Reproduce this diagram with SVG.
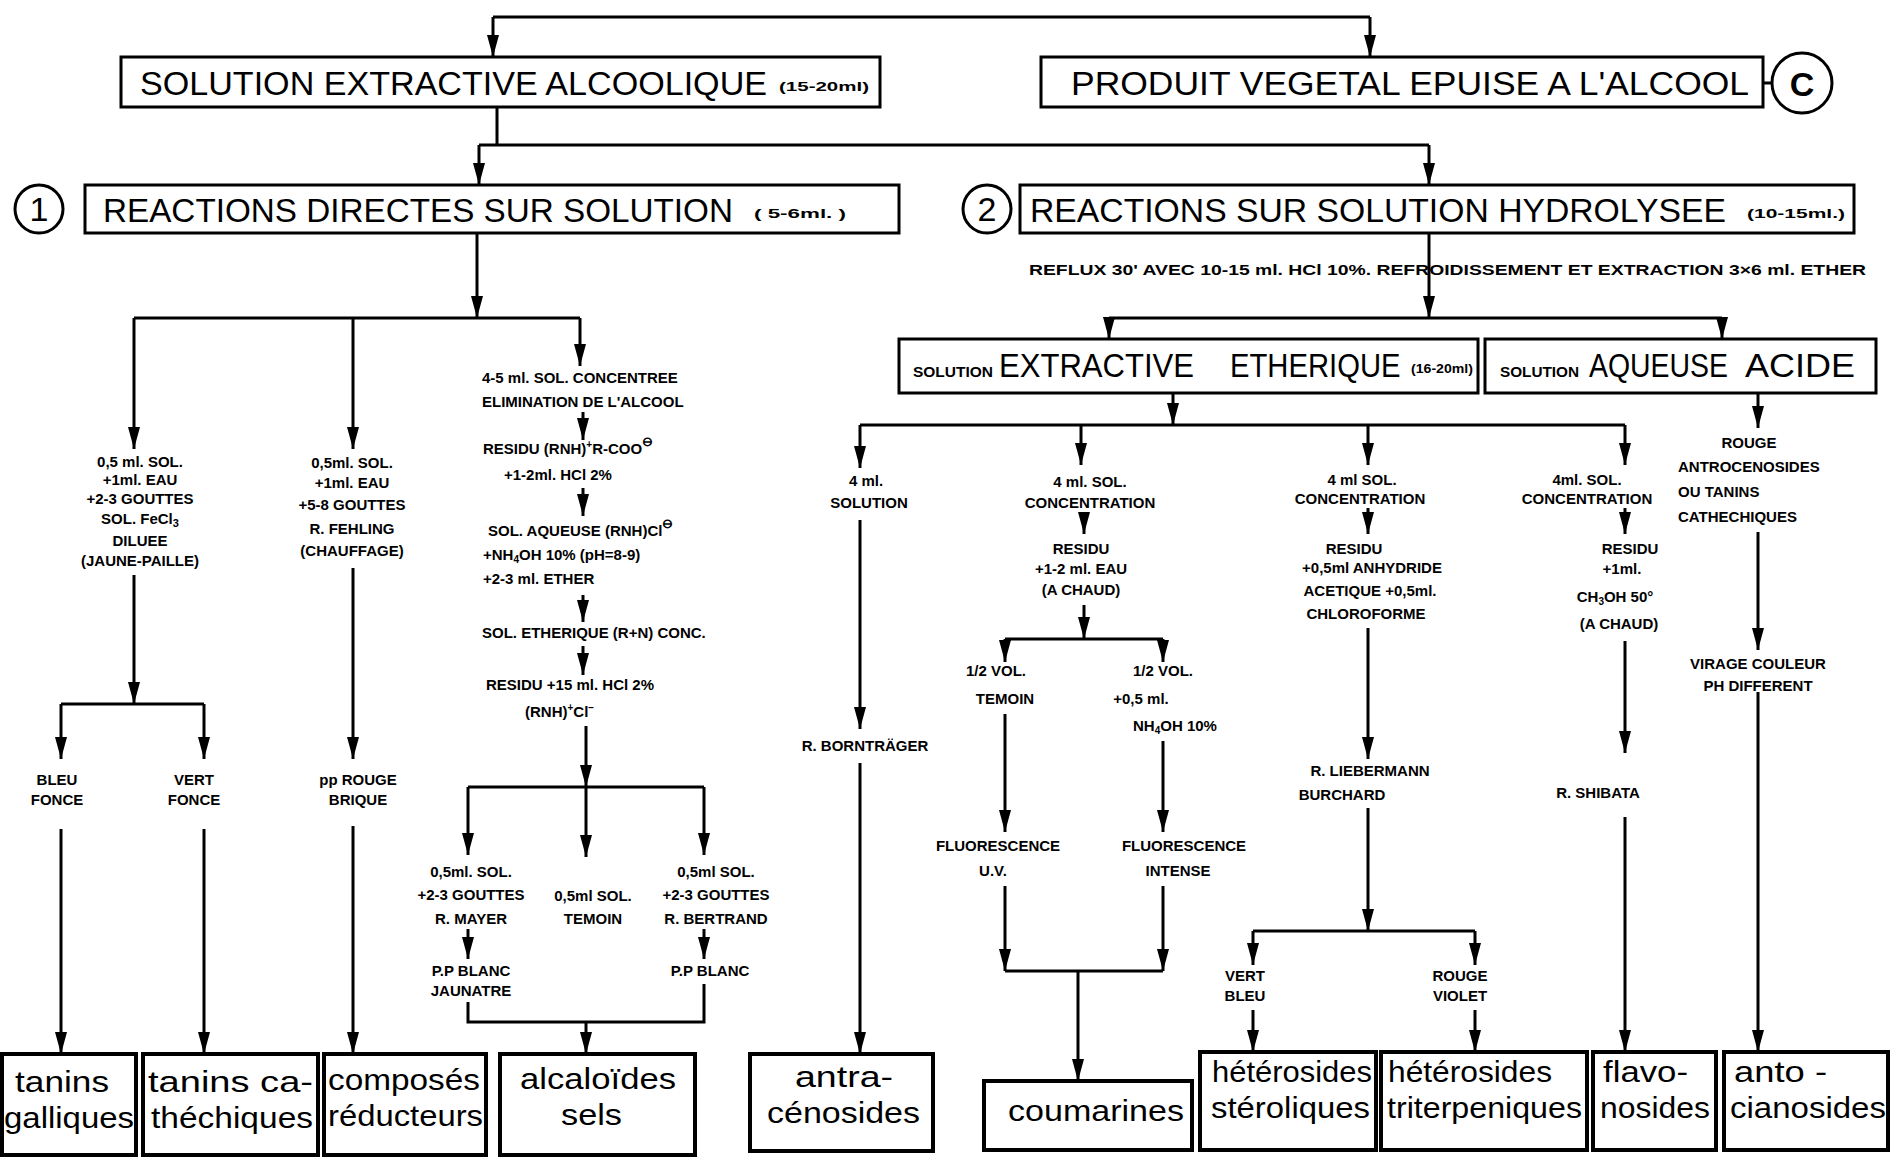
<svg xmlns="http://www.w3.org/2000/svg" width="1904" height="1157" viewBox="0 0 1904 1157">
<defs>
<marker id="ah" viewBox="0 0 22 12" refX="22" refY="6" markerWidth="22" markerHeight="12" markerUnits="userSpaceOnUse" orient="auto">
<path d="M0,0 L22,6 L0,12 z" fill="#000"/>
</marker>
<style>
.box{fill:#fff;stroke:#000;stroke-width:3}
.bbox{fill:#fff;stroke:#000;stroke-width:4}
.ln{fill:none;stroke:#000;stroke-width:3}
.ar{marker-end:url(#ah)}
.t{font-family:"Liberation Sans",Arial,sans-serif;font-weight:bold;font-size:15px;fill:#000}
.c{text-anchor:middle}
.big{font-family:"Liberation Sans",Arial,sans-serif;font-size:34px;fill:#000}
.sm{font-family:"Liberation Sans",Arial,sans-serif;font-weight:bold;font-size:12px;fill:#000}
.res{font-family:"Liberation Sans",Arial,sans-serif;font-size:30px;fill:#000}
.circ{fill:#fff;stroke:#000;stroke-width:3}
</style>
</defs>
<rect width="1904" height="1157" fill="#fff"/>

<g id="connectors">
<path class="ln" d="M493,17 H1370"/>
<line class="ln ar" x1="493" y1="17" x2="493" y2="57"/>
<line class="ln ar" x1="1370" y1="17" x2="1370" y2="57"/>
<path class="ln" d="M497,107 V145 M479,145 H1429"/>
<line class="ln ar" x1="479" y1="145" x2="479" y2="185"/>
<line class="ln ar" x1="1429" y1="145" x2="1429" y2="185"/>
<line class="ln ar" x1="477" y1="233" x2="477" y2="318"/>
<path class="ln" d="M134,318 H580"/>
<line class="ln ar" x1="134" y1="318" x2="134" y2="449"/>
<line class="ln ar" x1="353" y1="318" x2="353" y2="449"/>
<line class="ln ar" x1="580" y1="318" x2="580" y2="366"/>
<line class="ln ar" x1="134" y1="575" x2="134" y2="704"/>
<path class="ln" d="M61,704 H204"/>
<line class="ln ar" x1="61" y1="704" x2="61" y2="759"/>
<line class="ln ar" x1="204" y1="704" x2="204" y2="759"/>
<line class="ln ar" x1="61" y1="829" x2="61" y2="1054"/>
<line class="ln ar" x1="204" y1="829" x2="204" y2="1054"/>
<line class="ln ar" x1="353" y1="568" x2="353" y2="759"/>
<line class="ln ar" x1="353" y1="826" x2="353" y2="1054"/>
<line class="ln ar" x1="583" y1="412" x2="583" y2="440"/>
<line class="ln ar" x1="583" y1="488" x2="583" y2="516"/>
<line class="ln ar" x1="583" y1="595" x2="583" y2="622"/>
<line class="ln ar" x1="583" y1="646" x2="583" y2="675"/>
<line class="ln ar" x1="586" y1="726" x2="586" y2="787"/>
<path class="ln" d="M468,787 H704"/>
<line class="ln ar" x1="468" y1="787" x2="468" y2="855"/>
<line class="ln ar" x1="586" y1="787" x2="586" y2="857"/>
<line class="ln ar" x1="704" y1="787" x2="704" y2="855"/>
<line class="ln ar" x1="468" y1="929" x2="468" y2="959"/>
<line class="ln ar" x1="704" y1="929" x2="704" y2="959"/>
<path class="ln" d="M468,1002 V1022 H704 V984"/>
<line class="ln ar" x1="586" y1="1022" x2="586" y2="1054"/>
<line class="ln ar" x1="1429" y1="233" x2="1429" y2="318"/>
<path class="ln" d="M1109,318 H1722"/>
<line class="ln ar" x1="1109" y1="318" x2="1109" y2="339"/>
<line class="ln ar" x1="1722" y1="318" x2="1722" y2="339"/>
<line class="ln ar" x1="1173" y1="393" x2="1173" y2="425"/>
<path class="ln" d="M860,425 H1625"/>
<line class="ln ar" x1="860" y1="425" x2="860" y2="468"/>
<line class="ln ar" x1="1081" y1="425" x2="1081" y2="465"/>
<line class="ln ar" x1="1368" y1="425" x2="1368" y2="465"/>
<line class="ln ar" x1="1625" y1="425" x2="1625" y2="465"/>
<line class="ln ar" x1="860" y1="520" x2="860" y2="729"/>
<line class="ln ar" x1="860" y1="763" x2="860" y2="1054"/>
<line class="ln ar" x1="1084" y1="512" x2="1084" y2="534"/>
<line class="ln ar" x1="1084" y1="605" x2="1084" y2="639"/>
<path class="ln" d="M1005,639 H1163"/>
<line class="ln ar" x1="1005" y1="639" x2="1005" y2="662"/>
<line class="ln ar" x1="1163" y1="639" x2="1163" y2="662"/>
<line class="ln ar" x1="1005" y1="714" x2="1005" y2="832"/>
<line class="ln ar" x1="1163" y1="741" x2="1163" y2="832"/>
<line class="ln ar" x1="1005" y1="886" x2="1005" y2="971"/>
<line class="ln ar" x1="1163" y1="886" x2="1163" y2="971"/>
<path class="ln" d="M1005,971 H1163"/>
<line class="ln ar" x1="1078" y1="971" x2="1078" y2="1081"/>
<line class="ln ar" x1="1368" y1="508" x2="1368" y2="534"/>
<line class="ln ar" x1="1368" y1="628" x2="1368" y2="759"/>
<line class="ln ar" x1="1368" y1="808" x2="1368" y2="931"/>
<path class="ln" d="M1253,931 H1475"/>
<line class="ln ar" x1="1253" y1="931" x2="1253" y2="965"/>
<line class="ln ar" x1="1475" y1="931" x2="1475" y2="965"/>
<line class="ln ar" x1="1253" y1="1010" x2="1253" y2="1052"/>
<line class="ln ar" x1="1475" y1="1010" x2="1475" y2="1052"/>
<line class="ln ar" x1="1625" y1="508" x2="1625" y2="534"/>
<line class="ln ar" x1="1625" y1="641" x2="1625" y2="753"/>
<line class="ln ar" x1="1625" y1="817" x2="1625" y2="1052"/>
<line class="ln ar" x1="1758" y1="393" x2="1758" y2="428"/>
<line class="ln ar" x1="1758" y1="532" x2="1758" y2="650"/>
<line class="ln ar" x1="1758" y1="692" x2="1758" y2="1052"/>
<line class="ln" x1="1772" y1="83" x2="1764" y2="83"/>
</g>

<g id="solution-alcoolique">
<rect class="box" x="121" y="57" width="759" height="50"/>
<text class="big" x="140" y="95" textLength="627" lengthAdjust="spacingAndGlyphs">SOLUTION EXTRACTIVE ALCOOLIQUE</text>
<text class="sm" x="779" y="91" textLength="90" lengthAdjust="spacingAndGlyphs">(15-20ml)</text>
</g>

<g id="produit-vegetal">
<rect class="box" x="1041" y="57" width="722" height="50"/>
<text class="big" x="1071" y="95" textLength="678" lengthAdjust="spacingAndGlyphs">PRODUIT VEGETAL EPUISE A L'ALCOOL</text>
</g>
<g id="circle-c">
<circle class="circ" cx="1802" cy="83" r="30"/>
<text class="big c" x="1802" y="96" font-weight="bold" font-size="34">C</text>
</g>

<g id="reactions-directes">
<circle class="circ" cx="39" cy="209" r="24"/>
<text class="big c" x="39" y="221" font-size="32">1</text>
<rect class="box" x="85" y="185" width="814" height="48"/>
<text class="big" x="103" y="222" textLength="630" lengthAdjust="spacingAndGlyphs">REACTIONS DIRECTES SUR SOLUTION</text>
<text class="sm" x="754" y="218" textLength="92" lengthAdjust="spacingAndGlyphs">( 5-6ml. )</text>
</g>

<g id="reactions-hydrolysee">
<circle class="circ" cx="987" cy="209" r="24"/>
<text class="big c" x="987" y="221" font-size="32">2</text>
<rect class="box" x="1020" y="185" width="834" height="48"/>
<text class="big" x="1030" y="222" textLength="696" lengthAdjust="spacingAndGlyphs">REACTIONS SUR SOLUTION HYDROLYSEE</text>
<text class="sm" x="1747" y="218" textLength="98" lengthAdjust="spacingAndGlyphs">(10-15ml.)</text>
</g>

<g id="reflux">
<text class="t" x="1029" y="275" textLength="837" lengthAdjust="spacingAndGlyphs">REFLUX   30' AVEC 10-15 ml. HCl 10%. REFROIDISSEMENT ET EXTRACTION 3×6 ml. ETHER</text>
</g>

<g id="solution-etherique">
<rect class="box" x="899" y="339" width="579" height="54"/>
<text class="t" x="913" y="377" textLength="80" lengthAdjust="spacingAndGlyphs">SOLUTION</text>
<text class="big" x="999" y="377" font-size="38" textLength="195" lengthAdjust="spacingAndGlyphs">EXTRACTIVE</text>
<text class="big" transform="translate(1230,377) scale(0.86,1)" x="0" y="0" font-size="38">ETHERIQUE</text>
<text class="sm" x="1411" y="373" textLength="62" lengthAdjust="spacingAndGlyphs">(16-20ml)</text>
</g>

<g id="solution-aqueuse">
<rect class="box" x="1485" y="339" width="391" height="54"/>
<text class="t" x="1500" y="377" textLength="79" lengthAdjust="spacingAndGlyphs">SOLUTION</text>
<text class="big" x="1589" y="377" font-size="38" textLength="139" lengthAdjust="spacingAndGlyphs">AQUEUSE</text>
<text class="big" x="1745" y="377" font-size="38" textLength="110" lengthAdjust="spacingAndGlyphs">ACIDE</text>
</g>

<g id="col1-fecl3">
<text class="t c" x="140" y="467">0,5 ml. SOL.</text>
<text class="t c" x="140" y="485">+1ml. EAU</text>
<text class="t c" x="140" y="504">+2-3 GOUTTES</text>
<text class="t c" x="140" y="524">SOL. FeCl<tspan dy="3" font-size="11">3</tspan></text>
<text class="t c" x="140" y="546">DILUEE</text>
<text class="t c" x="140" y="566">(JAUNE-PAILLE)</text>
</g>
<g id="bleu-fonce">
<text class="t c" x="57" y="785">BLEU</text>
<text class="t c" x="57" y="805">FONCE</text>
</g>
<g id="vert-fonce">
<text class="t c" x="194" y="785">VERT</text>
<text class="t c" x="194" y="805">FONCE</text>
</g>

<g id="col2-fehling">
<text class="t c" x="352" y="468">0,5ml. SOL.</text>
<text class="t c" x="352" y="488">+1ml. EAU</text>
<text class="t c" x="352" y="510">+5-8 GOUTTES</text>
<text class="t c" x="352" y="534">R. FEHLING</text>
<text class="t c" x="352" y="556">(CHAUFFAGE)</text>
</g>
<g id="rouge-brique">
<text class="t c" x="358" y="785">pp ROUGE</text>
<text class="t c" x="358" y="805">BRIQUE</text>
</g>

<g id="col3-alcaloides">
<text class="t" x="482" y="383">4-5 ml. SOL. CONCENTREE</text>
<text class="t" x="482" y="407">ELIMINATION DE L'ALCOOL</text>
<text class="t" x="483" y="454">RESIDU (RNH)<tspan dy="-6" font-size="10">+</tspan><tspan dy="6">R-COO</tspan><tspan dy="-8" font-size="13">⊖</tspan></text>
<text class="t" x="504" y="480">+1-2ml. HCl 2%</text>
<text class="t" x="488" y="536">SOL. AQUEUSE (RNH)Cl<tspan dy="-8" font-size="13">⊖</tspan></text>
<text class="t" x="483" y="560">+NH<tspan dy="3" font-size="10">4</tspan><tspan dy="-3">OH 10% (pH=8-9)</tspan></text>
<text class="t" x="483" y="584">+2-3 ml. ETHER</text>
<text class="t" x="482" y="638">SOL. ETHERIQUE (R+N) CONC.</text>
<text class="t" x="486" y="690">RESIDU +15 ml. HCl 2%</text>
<text class="t" x="525" y="717">(RNH)<tspan dy="-6" font-size="10">+</tspan><tspan dy="6">Cl</tspan><tspan dy="-6" font-size="10">−</tspan></text>
</g>
<g id="mayer">
<text class="t c" x="471" y="877">0,5ml. SOL.</text>
<text class="t c" x="471" y="900">+2-3 GOUTTES</text>
<text class="t c" x="471" y="924">R. MAYER</text>
</g>
<g id="temoin-alc">
<text class="t c" x="593" y="901">0,5ml SOL.</text>
<text class="t c" x="593" y="924">TEMOIN</text>
</g>
<g id="bertrand">
<text class="t c" x="716" y="877">0,5ml SOL.</text>
<text class="t c" x="716" y="900">+2-3 GOUTTES</text>
<text class="t c" x="716" y="924">R. BERTRAND</text>
</g>
<g id="blanc-jaunatre">
<text class="t c" x="471" y="976">P.P BLANC</text>
<text class="t c" x="471" y="996">JAUNATRE</text>
</g>
<g id="blanc">
<text class="t c" x="710" y="976">P.P BLANC</text>
</g>

<g id="col-a">
<text class="t c" x="866" y="486">4 ml.</text>
<text class="t c" x="869" y="508">SOLUTION</text>
</g>
<g id="borntrager">
<text class="t c" x="865" y="751">R. BORNTRÄGER</text>
</g>

<g id="col-b">
<text class="t c" x="1090" y="487">4 ml. SOL.</text>
<text class="t c" x="1090" y="508">CONCENTRATION</text>
<text class="t c" x="1081" y="554">RESIDU</text>
<text class="t c" x="1081" y="574">+1-2 ml. EAU</text>
<text class="t c" x="1081" y="595">(A CHAUD)</text>
</g>
<g id="temoin-b">
<text class="t c" x="996" y="676">1/2 VOL.</text>
<text class="t c" x="1005" y="704">TEMOIN</text>
</g>
<g id="nh4oh-b">
<text class="t c" x="1163" y="676">1/2 VOL.</text>
<text class="t c" x="1141" y="704">+0,5 ml.</text>
<text class="t c" x="1175" y="731">NH<tspan dy="3" font-size="10">4</tspan><tspan dy="-3">OH 10%</tspan></text>
</g>
<g id="fluo-uv">
<text class="t c" x="998" y="851">FLUORESCENCE</text>
<text class="t c" x="993" y="876">U.V.</text>
</g>
<g id="fluo-intense">
<text class="t c" x="1184" y="851">FLUORESCENCE</text>
<text class="t c" x="1178" y="876">INTENSE</text>
</g>

<g id="col-c">
<text class="t c" x="1362" y="485">4 ml SOL.</text>
<text class="t c" x="1360" y="504">CONCENTRATION</text>
<text class="t c" x="1354" y="554">RESIDU</text>
<text class="t c" x="1372" y="573">+0,5ml ANHYDRIDE</text>
<text class="t c" x="1370" y="596">ACETIQUE +0,5ml.</text>
<text class="t c" x="1366" y="619">CHLOROFORME</text>
</g>
<g id="liebermann">
<text class="t c" x="1370" y="776">R. LIEBERMANN</text>
<text class="t c" x="1342" y="800">BURCHARD</text>
</g>
<g id="vert-bleu">
<text class="t c" x="1245" y="981">VERT</text>
<text class="t c" x="1245" y="1001">BLEU</text>
</g>
<g id="rouge-violet">
<text class="t c" x="1460" y="981">ROUGE</text>
<text class="t c" x="1460" y="1001">VIOLET</text>
</g>

<g id="col-d">
<text class="t c" x="1587" y="485">4ml. SOL.</text>
<text class="t c" x="1587" y="504">CONCENTRATION</text>
<text class="t c" x="1630" y="554">RESIDU</text>
<text class="t c" x="1622" y="574">+1ml.</text>
<text class="t c" x="1615" y="602">CH<tspan dy="3" font-size="10">3</tspan><tspan dy="-3">OH 50°</tspan></text>
<text class="t c" x="1619" y="629">(A CHAUD)</text>
</g>
<g id="shibata">
<text class="t c" x="1598" y="798">R. SHIBATA</text>
</g>

<g id="col-e">
<text class="t c" x="1749" y="448">ROUGE</text>
<text class="t" x="1678" y="472">ANTROCENOSIDES</text>
<text class="t" x="1678" y="497">OU TANINS</text>
<text class="t" x="1678" y="522">CATHECHIQUES</text>
</g>
<g id="virage">
<text class="t c" x="1758" y="669">VIRAGE COULEUR</text>
<text class="t c" x="1758" y="691">PH DIFFERENT</text>
</g>

<g id="tanins-galliques">
<rect class="bbox" x="2" y="1054" width="134" height="101"/>
<text class="res" x="15" y="1092" textLength="94" lengthAdjust="spacingAndGlyphs">tanins</text>
<text class="res" x="4" y="1128" textLength="130" lengthAdjust="spacingAndGlyphs">galliques</text>
</g>
<g id="tanins-catechiques">
<rect class="bbox" x="143" y="1054" width="175" height="101"/>
<text class="res" x="148" y="1092" textLength="165" lengthAdjust="spacingAndGlyphs">tanins ca-</text>
<text class="res" x="151" y="1128" textLength="162" lengthAdjust="spacingAndGlyphs">théchiques</text>
</g>
<g id="composes-reducteurs">
<rect class="bbox" x="324" y="1054" width="162" height="101"/>
<text class="res" x="328" y="1090" textLength="152" lengthAdjust="spacingAndGlyphs">composés</text>
<text class="res" x="328" y="1126" textLength="155" lengthAdjust="spacingAndGlyphs">réducteurs</text>
</g>
<g id="alcaloides-sels">
<rect class="bbox" x="500" y="1054" width="195" height="101" stroke-width="5"/>
<text class="res" x="520" y="1089" textLength="156" lengthAdjust="spacingAndGlyphs">alcaloïdes</text>
<text class="res" x="561" y="1125" textLength="61" lengthAdjust="spacingAndGlyphs">sels</text>
</g>
<g id="antracenosides">
<rect class="bbox" x="750" y="1054" width="183" height="97"/>
<text class="res" x="795" y="1087" textLength="98" lengthAdjust="spacingAndGlyphs">antra-</text>
<text class="res" x="767" y="1123" textLength="153" lengthAdjust="spacingAndGlyphs">cénosides</text>
</g>
<g id="coumarines">
<rect class="bbox" x="984" y="1081" width="208" height="69"/>
<text class="res" x="1008" y="1121" textLength="176" lengthAdjust="spacingAndGlyphs">coumarines</text>
</g>
<g id="heterosides-steroliques">
<rect class="bbox" x="1200" y="1052" width="176" height="98"/>
<text class="res" x="1212" y="1082" textLength="160" lengthAdjust="spacingAndGlyphs">hétérosides</text>
<text class="res" x="1211" y="1118" textLength="159" lengthAdjust="spacingAndGlyphs">stéroliques</text>
</g>
<g id="heterosides-triterpeniques">
<rect class="bbox" x="1381" y="1052" width="206" height="98"/>
<text class="res" x="1388" y="1082" textLength="164" lengthAdjust="spacingAndGlyphs">hétérosides</text>
<text class="res" x="1387" y="1118" textLength="195" lengthAdjust="spacingAndGlyphs">triterpeniques</text>
</g>
<g id="flavonosides">
<rect class="bbox" x="1593" y="1052" width="123" height="98"/>
<text class="res" x="1603" y="1082" textLength="85" lengthAdjust="spacingAndGlyphs">flavo-</text>
<text class="res" x="1600" y="1118" textLength="110" lengthAdjust="spacingAndGlyphs">nosides</text>
</g>
<g id="antocianosides">
<rect class="bbox" x="1724" y="1052" width="164" height="98"/>
<text class="res" x="1734" y="1082" textLength="93" lengthAdjust="spacingAndGlyphs">anto -</text>
<text class="res" x="1730" y="1118" textLength="156" lengthAdjust="spacingAndGlyphs">cianosides</text>
</g>
</svg>
